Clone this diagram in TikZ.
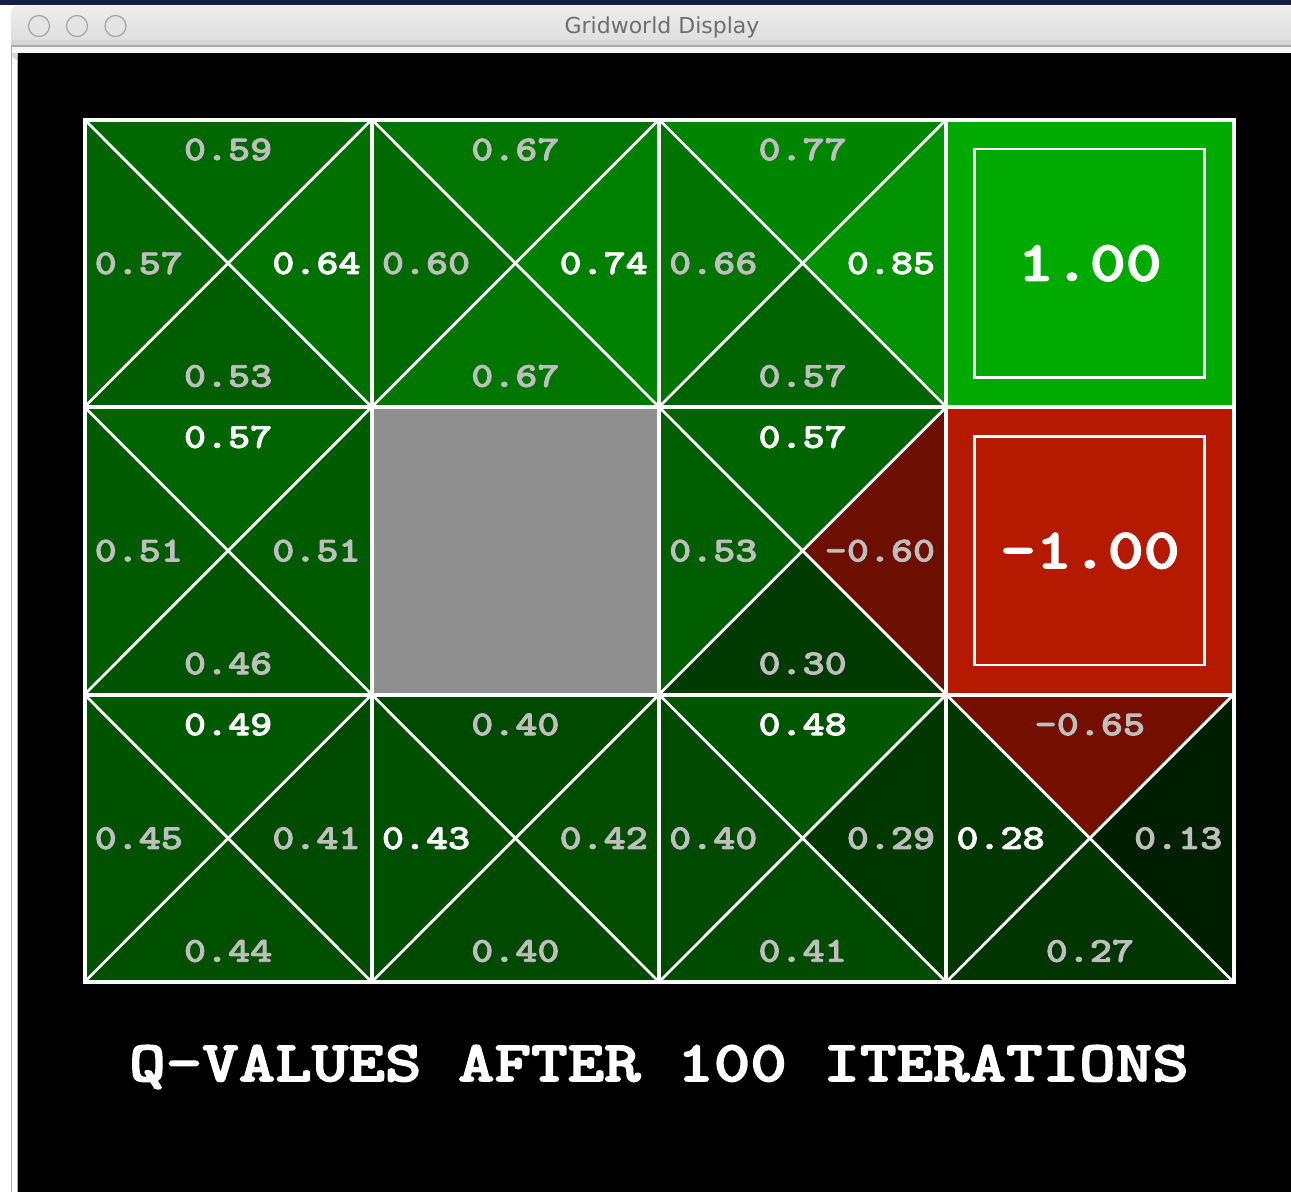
\documentclass[tikz,border=0pt]{standalone}
\usepackage{fontspec}
\newfontfamily\uisans{DejaVu Sans}
\newfontfamily\qmono{lmmonolt10-bold.otf}[FakeBold=2.2]
\definecolor{qgray}{RGB}{190,190,190}
\definecolor{obst}{RGB}{143,143,143}
\definecolor{navy}{RGB}{22,30,66}
\definecolor{barTop}{RGB}{238,238,238}
\definecolor{barBot}{RGB}{214,214,214}
\definecolor{framegray}{RGB}{170,170,170}
\definecolor{wintitle}{RGB}{110,110,110}
\definecolor{exitgreen}{RGB}{0,170,0}
\definecolor{exitred}{RGB}{181,26,0}
\definecolor{btnfill}{RGB}{228,228,228}
\definecolor{btnline}{RGB}{165,165,165}
\newcommand\qtext[2]{\scalebox{1.2}[1]{\qmono\fontsize{#1}{#1}\selectfont #2}}
\newcommand\setqcolor[2]{%
  \pgfmathsetmacro\qv{#2}%
  \ifdim\qv pt<0pt
    \pgfmathtruncatemacro\qr{-\qv*180}%
    \pgfmathtruncatemacro\qg{-\qv*24}%
    \definecolor{#1}{RGB}{\qr,\qg,0}%
  \else
    \pgfmathtruncatemacro\qg{10+\qv*160}%
    \definecolor{#1}{RGB}{0,\qg,0}%
  \fi}
\newcommand\cellgeom[2]{%
  \pgfmathsetmacro\xa{84.5+287.25*#1}%
  \pgfmathsetmacro\xb{\xa+287.25}%
  \pgfmathsetmacro\ya{119.5+287.5*#2}%
  \pgfmathsetmacro\yb{\ya+287.5}%
  \pgfmathsetmacro\xc{(\xa+\xb)/2}%
  \pgfmathsetmacro\yc{(\ya+\yb)/2}}
% col,row,N,E,S,W,best
\newcommand\qcell[7]{%
  \cellgeom{#1}{#2}%
  \coordinate (nw#1#2) at (\xa,\ya);
  \coordinate (ne#1#2) at (\xb,\ya);
  \coordinate (sw#1#2) at (\xa,\yb);
  \coordinate (se#1#2) at (\xb,\yb);
  \coordinate (cc#1#2) at (\xc,\yc);
  \setqcolor{qN}{#3}\setqcolor{qE}{#4}\setqcolor{qS}{#5}\setqcolor{qW}{#6}%
  \fill[qN] (nw#1#2) -- (ne#1#2) -- (cc#1#2) -- cycle;
  \fill[qE] (ne#1#2) -- (se#1#2) -- (cc#1#2) -- cycle;
  \fill[qS] (se#1#2) -- (sw#1#2) -- (cc#1#2) -- cycle;
  \fill[qW] (sw#1#2) -- (nw#1#2) -- (cc#1#2) -- cycle;
  \draw[diag] (nw#1#2) -- (se#1#2);
  \draw[diag] (ne#1#2) -- (sw#1#2);
  \def\tN{qgray}\def\tE{qgray}\def\tS{qgray}\def\tW{qgray}%
  \if#7N\def\tN{white}\fi
  \if#7E\def\tE{white}\fi
  \if#7S\def\tS{white}\fi
  \if#7W\def\tW{white}\fi
  \node[qlab,text=\tN] (qn#1#2) at (\xc,\ya+30) {\qtext{35}{#3}};
  \node[qlab,text=\tS] (qs#1#2) at (\xc,\yb-31) {\qtext{35}{#5}};
  \node[qlab,text=\tW,anchor=west] (qw#1#2) at (\xa+10,\yc) {\qtext{35}{#6}};
  \node[qlab,text=\tE,anchor=east] (qe#1#2) at (\xb-11,\yc) {\qtext{35}{#4}};
  \draw[gridline] (nw#1#2) rectangle (se#1#2);
}
\newcommand\exitcell[4]{%
  \cellgeom{#1}{#2}%
  \coordinate (nw#1#2) at (\xa,\ya);
  \coordinate (se#1#2) at (\xb,\yb);
  \fill[#3] (nw#1#2) rectangle (se#1#2);
  \coordinate (inw#1#2) at (\xc-115,\ya+29.5);
  \coordinate (ise#1#2) at (\xc+115,\yb-29.5);
  \draw[white,line width=2.8] (inw#1#2) rectangle (ise#1#2);
  \node[qlab,text=white] (ex#1#2) at (\xc,\yc) {\qtext{57}{#4}};
  \draw[gridline] (nw#1#2) rectangle (se#1#2);
}
\tikzset{
  diag/.style={white,line width=2.8},
  gridline/.style={white,line width=4},
  qlab/.style={inner sep=0pt},
  btn/.style={draw=btnline,fill=btnfill,line width=1.2},
}
\begin{document}
\begin{tikzpicture}[x=1pt,y=-1pt]
\useasboundingbox (0,0) rectangle (1291,1192);
% window chrome
\fill[white] (0,0) rectangle (1291,1192);
\fill[navy] (0,0) rectangle (1291,5);
\shade[top color=barTop,bottom color=barBot,rounded corners=8]
  (11,5) rectangle (1300,60);
\fill[barBot] (11,40) rectangle (1291,46);
\draw[framegray,line width=1.2] (1291,46) -- (11.5,46) -- (11.5,1192);
\fill[white!96!black] (12,47) rectangle (1291,53);
\draw[framegray,line width=1] (17.5,53) -- (17.5,1192);
\fill[black] (18,53) rectangle (1291,1192);
\node[btn,circle,minimum size=21,inner sep=0] (b1) at (39,26) {};
\node[btn,circle,minimum size=21,inner sep=0] (b2) at (77,26) {};
\node[btn,circle,minimum size=21,inner sep=0] (b3) at (115.5,26) {};
\node[font=\uisans\fontsize{22}{22}\selectfont,text=wintitle] (wt) at (662,27) {Gridworld Display};
% grid
\qcell{0}{0}{0.59}{0.64}{0.53}{0.57}{E}
\qcell{1}{0}{0.67}{0.74}{0.67}{0.60}{E}
\qcell{2}{0}{0.77}{0.85}{0.57}{0.66}{E}
\exitcell{3}{0}{exitgreen}{1.00}
\qcell{0}{1}{0.57}{0.51}{0.46}{0.51}{N}
\cellgeom{1}{1}
\coordinate (nw11) at (\xa,\ya);
\coordinate (se11) at (\xb,\yb);
\fill[obst] (nw11) rectangle (se11);
\draw[gridline] (nw11) rectangle (se11);
\qcell{2}{1}{0.57}{-0.60}{0.30}{0.53}{N}
\exitcell{3}{1}{exitred}{-1.00}
\qcell{0}{2}{0.49}{0.41}{0.44}{0.45}{N}
\qcell{1}{2}{0.40}{0.42}{0.40}{0.43}{W}
\qcell{2}{2}{0.48}{0.29}{0.41}{0.40}{N}
\qcell{3}{2}{-0.65}{0.13}{0.27}{0.28}{W}
\node[qlab,text=white] (title) at (659,1067) {\qtext{58}{Q-VALUES AFTER 100 ITERATIONS}};
\end{tikzpicture}
\end{document}
